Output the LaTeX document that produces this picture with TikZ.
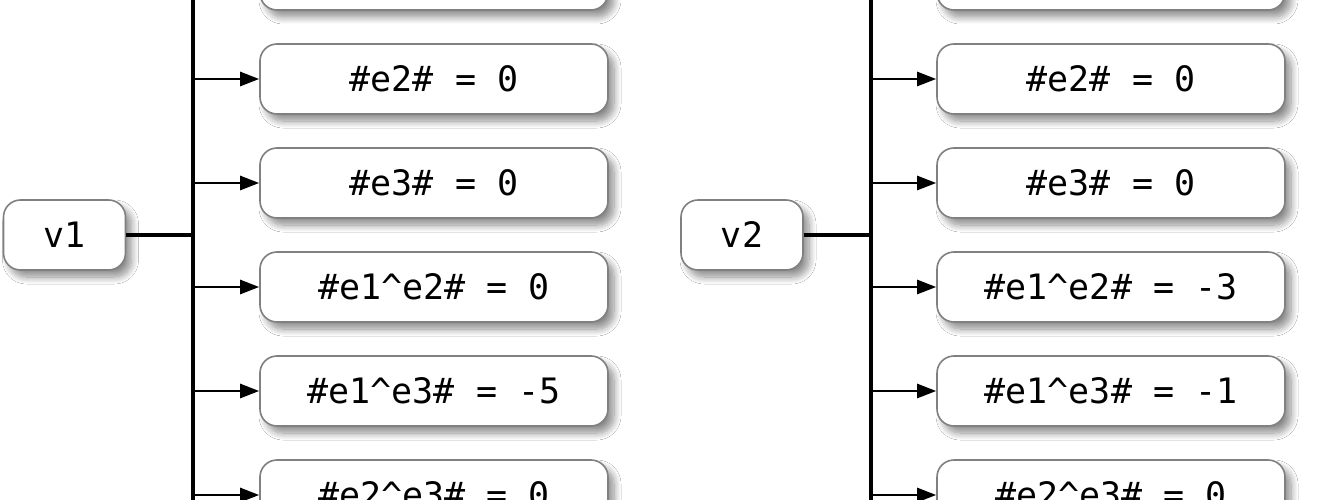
\documentclass[tikz,border=0pt]{standalone}
\usepackage{fontspec}
\setmonofont{DejaVu Sans Mono}
\usetikzlibrary{arrows.meta,shadows.blur}
\tikzset{
  box/.style={draw=black!50, line width=1.6pt, rounded corners=17pt, fill=white,
    minimum width=348pt, minimum height=70pt, inner sep=0pt,
    font=\fontsize{35}{40}\selectfont\ttfamily,
    blur shadow={shadow xshift=6pt, shadow yshift=-7pt, shadow blur radius=7pt, shadow blur steps=10, shadow opacity=45}},
  vbox/.style={box, minimum width=122pt},
  branch/.style={line width=2.6pt, -{Triangle[length=19pt,width=14pt]}},
  trunk/.style={line width=3.6pt},
  feed/.style={line width=4.6pt}
}
\begin{document}
\begin{tikzpicture}[x=1pt,y=-1pt]
\clip (0,0) rectangle (1320,500);
\fill[white] (0,0) rectangle (1320,500);
% left group
\node[vbox] (v1) at (64.5,235) {v1};
\node[box] (a0) at (434,-25) {};
\node[box] (a1) at (434,79) {\#e2\# = 0};
\node[box] (a2) at (434,183) {\#e3\# = 0};
\node[box] (a3) at (434,287) {\#e1\^{}e2\# = 0};
\node[box] (a4) at (434,391) {\#e1\^{}e3\# = -5};
\node[box] (a5) at (434,495) {\#e2\^{}e3\# = 0};
\coordinate (ltop) at (193,-80);
\coordinate (lbot) at (193,560);
\coordinate (lj) at (193,235);
\draw[feed] (v1.east) -- (lj);
\draw[trunk] (ltop) -- (lbot);
\foreach \i in {0,...,5} \draw[branch] (lj |- a\i.west) -- (a\i.west);
% right group
\node[vbox] (v2) at (742,235) {v2};
\node[box] (b0) at (1111,-25) {};
\node[box] (b1) at (1111,79) {\#e2\# = 0};
\node[box] (b2) at (1111,183) {\#e3\# = 0};
\node[box] (b3) at (1111,287) {\#e1\^{}e2\# = -3};
\node[box] (b4) at (1111,391) {\#e1\^{}e3\# = -1};
\node[box] (b5) at (1111,495) {\#e2\^{}e3\# = 0};
\coordinate (rtop) at (871,-80);
\coordinate (rbot) at (871,560);
\coordinate (rj) at (871,235);
\draw[feed] (v2.east) -- (rj);
\draw[trunk] (rtop) -- (rbot);
\foreach \i in {0,...,5} \draw[branch] (rj |- b\i.west) -- (b\i.west);
\end{tikzpicture}
\end{document}
